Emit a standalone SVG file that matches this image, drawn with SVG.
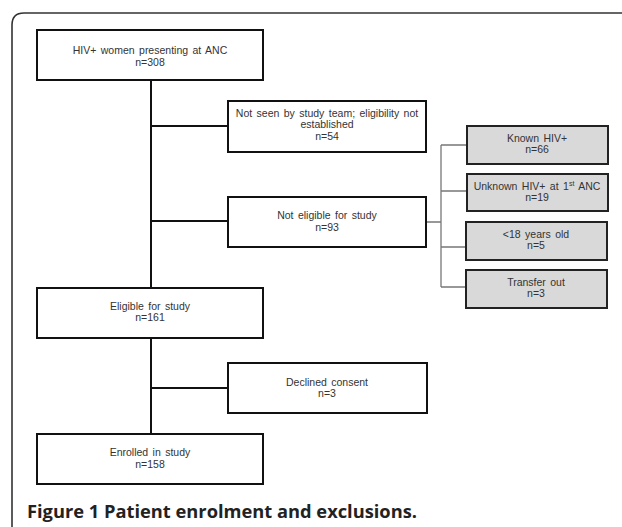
<svg xmlns="http://www.w3.org/2000/svg" width="622" height="527" viewBox="0 0 622 527">
<style>
.box{fill:#fff;stroke:#111;stroke-width:2}
.gbox{fill:#d9d9d9;stroke:#222;stroke-width:2}
.t{font-family:"Liberation Sans",Arial,sans-serif;font-size:10.5px;fill:#333;text-anchor:middle;word-spacing:1.5px}
.c{stroke:#111;stroke-width:2;fill:none}
.g{stroke:#777;stroke-width:1.3;fill:none}
</style>
<rect width="622" height="527" fill="#fff"/>
<path d="M12,527 V25 Q12,13 24,13 H622" fill="none" stroke="#333" stroke-width="1.6"/>
<g id="connectors">
<path class="c" d="M151,80 V288"/>
<path class="c" d="M151,126 H228"/>
<path class="c" d="M151,221 H228"/>
<path class="c" d="M151,338 V434"/>
<path class="c" d="M151,388 H228"/>
<path class="g" d="M426,222 H441 M441,145 V287 M441,145 H467 M441,191 H467 M441,247 H466 M441,287 H466"/>
</g>
<g id="n1"><rect class="box" x="37" y="30" width="226" height="50"/>
<text class="t" x="150" y="54">HIV+ women presenting at ANC</text><text class="t" x="150" y="66">n=308</text></g>
<g id="n2"><rect class="box" x="228" y="101" width="198" height="51"/>
<text class="t" x="327" y="117">Not seen by study team; eligibility not</text><text class="t" x="327" y="128">established</text><text class="t" x="327" y="140">n=54</text></g>
<g id="n3"><rect class="box" x="228" y="197" width="198" height="50"/>
<text class="t" x="327" y="219">Not eligible for study</text><text class="t" x="327" y="231">n=93</text></g>
<g id="n4"><rect class="gbox" x="467" y="126" width="141" height="38"/>
<text class="t" x="537" y="142">Known HIV+</text><text class="t" x="537" y="153">n=66</text></g>
<g id="n5"><rect class="gbox" x="467" y="174" width="141" height="37"/>
<text class="t" x="537" y="190">Unknown HIV+ at 1<tspan font-size="7" dy="-4">st</tspan><tspan dy="4"> ANC</tspan></text><text class="t" x="537" y="201">n=19</text></g>
<g id="n6"><rect class="gbox" x="466" y="222" width="141" height="38"/>
<text class="t" x="536" y="238">&lt;18 years old</text><text class="t" x="536" y="249">n=5</text></g>
<g id="n7"><rect class="gbox" x="466" y="270" width="141" height="38"/>
<text class="t" x="536" y="286">Transfer out</text><text class="t" x="536" y="297">n=3</text></g>
<g id="n8"><rect class="box" x="37" y="288" width="226" height="50"/>
<text class="t" x="150" y="310">Eligible for study</text><text class="t" x="150" y="321">n=161</text></g>
<g id="n9"><rect class="box" x="228" y="363" width="199" height="50"/>
<text class="t" x="327" y="386">Declined consent</text><text class="t" x="327" y="397">n=3</text></g>
<g id="n10"><rect class="box" x="37" y="434" width="226" height="50"/>
<text class="t" x="150" y="456">Enrolled in study</text><text class="t" x="150" y="468">n=158</text></g>
<text x="27" y="518" font-family="'Open Sans',sans-serif" font-weight="bold" font-size="18" fill="#222" textLength="390" lengthAdjust="spacingAndGlyphs">Figure 1 Patient enrolment and exclusions.</text>
</svg>
